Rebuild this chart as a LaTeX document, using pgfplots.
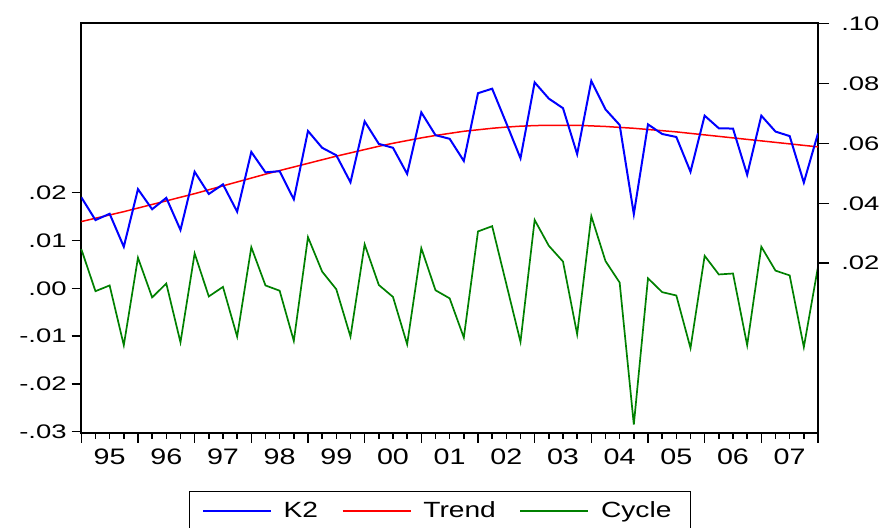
\documentclass[border=0pt]{standalone}
\usepackage{fontspec}
\setmainfont[FakeStretch=1.28]{Liberation Sans}
\newfontfamily\yfont[FakeStretch=1.4]{Liberation Sans}
\usepackage{pgfplots}
\usepackage{pgfplotstable}
\pgfplotsset{compat=1.18}
\definecolor{kblue}{RGB}{0,0,255}
\definecolor{tred}{RGB}{255,0,0}
\definecolor{cgreen}{RGB}{0,128,0}

\pgfplotstableread{
i k2 trend cycle
0 0.0420 0.0339 0.0082
1 0.0344 0.0350 -0.0006
2 0.0365 0.0361 0.0006
3 0.0255 0.0372 -0.0119
4 0.0447 0.0384 0.0064
5 0.0380 0.0396 -0.0019
6 0.0418 0.0408 0.0010
7 0.0311 0.0420 -0.0113
8 0.0505 0.0432 0.0073
9 0.0431 0.0445 -0.0017
10 0.0463 0.0458 0.0003
11 0.0372 0.0471 -0.0101
12 0.0571 0.0484 0.0086
13 0.0503 0.0497 0.0006
14 0.0507 0.0509 -0.0005
15 0.0413 0.0521 -0.0110
16 0.0641 0.0533 0.0107
17 0.0585 0.0545 0.0035
18 0.0560 0.0557 -0.0002
19 0.0470 0.0568 -0.0101
20 0.0673 0.0579 0.0092
21 0.0598 0.0590 0.0007
22 0.0585 0.0600 -0.0018
23 0.0498 0.0609 -0.0117
24 0.0703 0.0618 0.0084
25 0.0627 0.0626 -0.0004
26 0.0615 0.0633 -0.0021
27 0.0541 0.0640 -0.0103
28 0.0767 0.0645 0.0119
29 0.0782 0.0650 0.0130
30 0.0667 0.0654 0.0009
31 0.0550 0.0657 -0.0112
32 0.0803 0.0659 0.0143
33 0.0749 0.0660 0.0089
34 0.0717 0.0660 0.0056
35 0.0564 0.0660 -0.0096
36 0.0808 0.0658 0.0151
37 0.0713 0.0656 0.0057
38 0.0661 0.0653 0.0012
39 0.0364 0.0650 -0.0285
40 0.0663 0.0646 0.0021
41 0.0631 0.0642 -0.0008
42 0.0621 0.0638 -0.0015
43 0.0505 0.0633 -0.0125
44 0.0692 0.0628 0.0068
45 0.0650 0.0623 0.0029
46 0.0649 0.0618 0.0031
47 0.0495 0.0613 -0.0119
48 0.0692 0.0608 0.0087
49 0.0639 0.0603 0.0037
50 0.0624 0.0598 0.0027
51 0.0469 0.0593 -0.0123
52 0.0633 0.0588 0.0045
}\data

\begin{document}
\begin{tikzpicture}
\useasboundingbox (-40.65pt,-47pt) rectangle (403.35pt,216.5pt);
\begin{axis}[
  at={(0pt,0pt)}, anchor=south west,
  scale only axis, width=368.35pt, height=204.85pt,
  xmin=0, xmax=52, ymin=-0.03027, ymax=0.05544,
  axis line style={line width=0.85pt},
  every tick/.style={black, line width=0.75pt},
  tick align=outside,
  major tick length=4.8pt, minor tick length=2.9pt,
  xtick={0,4,...,52}, xticklabels={},
  minor xtick={0,1,...,52},
  extra x ticks={2,6,...,50},
  extra x tick labels={95,96,97,98,99,00,01,02,03,04,05,06,07},
  extra x tick style={major tick length=0pt},
  xtick pos=bottom, ytick pos=left,
  ytick={-0.03,-0.02,-0.01,0,0.01,0.02},
  yticklabels={-.03,-.02,-.01,.00,.01,.02},
  xticklabel style={font=\fontsize{11.2}{13}\selectfont, yshift=-4.5pt},
  yticklabel style={font=\yfont\fontsize{9.8}{12}\selectfont, xshift=1pt},
  scaled y ticks=false,
  clip=false,
]
\addplot[cgreen, line width=0.85pt, forget plot] table[x=i, y=cycle] {\data};
\end{axis}
\begin{axis}[
  at={(0pt,0pt)}, anchor=south west,
  scale only axis, width=368.35pt, height=204.85pt,
  xmin=0, xmax=52, ymin=-0.0366, ymax=0.1,
  axis x line=none, axis y line*=right,
  axis line style={line width=0.85pt, -},
  every tick/.style={black, line width=0.75pt},
  tick align=outside, major tick length=5.6pt,
  ytick={0.02,0.04,0.06,0.08,0.10},
  yticklabels={.02,.04,.06,.08,.10},
  yticklabel style={font=\yfont\fontsize{9.8}{12}\selectfont, xshift=2.5pt},
  scaled y ticks=false,
  legend style={at={(0.4869,-0.1416)}, anchor=north, draw=black, line width=0.6pt,
    legend columns=3, font=\fontsize{11}{13}\selectfont,
    inner xsep=6.5pt, inner ysep=3pt,
    nodes={inner xsep=3pt},
    /tikz/every odd column/.append style={column sep=3pt},
    /tikz/every even column/.append style={column sep=9pt}},
  legend image code/.code={\draw[#1] (0pt,0pt) -- (34pt,0pt);},
]
\addlegendimage{kblue, line width=0.6pt}
\addlegendimage{tred, line width=0.6pt}
\addlegendimage{cgreen, line width=0.6pt}
\addplot[tred, line width=0.75pt, forget plot] table[x=i, y=trend] {\data};
\addplot[kblue, line width=1pt, forget plot] table[x=i, y=k2] {\data};
\legend{K2,Trend,Cycle}
\end{axis}
\end{tikzpicture}
\end{document}
